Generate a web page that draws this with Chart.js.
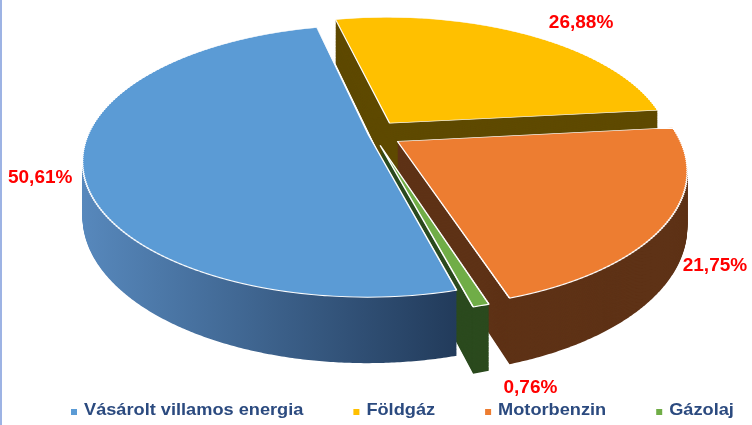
<!DOCTYPE html>
<html>
<head>
<meta charset="utf-8">
<script src="https://cdn.jsdelivr.net/npm/chart.js@4.4.1/dist/chart.umd.min.js"></script>
<style>
  html, body { margin: 0; padding: 0; background: #fff; }
  #wrap { position: relative; width: 752px; height: 425px; }
  #edge { position: absolute; left: 0; top: 0; width: 2px; height: 425px; background: #9db3e4; }
</style>
</head>
<body>
<div id="wrap">
  <canvas id="pie" width="752" height="425"></canvas>
  <div id="edge"></div>
</div>
<script>
const categories = ["Vásárolt villamos energia", "Földgáz", "Motorbenzin", "Gázolaj"];
const shares = [50.61, 26.88, 21.75, 0.76];
const topColors = ["#5b9bd5", "#ffc000", "#ed7d31", "#70ad47"];
const sideColors = [["#5788bc", "#223b5b"], "#5f4a00", "#5e3216", "#2b4a1e"];
const explode = [5, 30, 30, 26];
const labelShift = [[0, 6], [19, -9], [6, 21], [45, 13]];

// perspective view of the flat pie: centre on screen, x/y scale, perspective, wall height
const view = { cx: 373, cy: 134, sx: 0.965, sy: 0.45, persp: 0.196, depth: 53 };
const pieRadius = 290;
const legendStyle = { left: 71, baseline: 415, box: 6, textGap: 13, itemGap: 50, stretch: 1.07, color: "#2b4a7f" };

const fmtPct = v => v.toFixed(2).replace(".", ",") + "%";

let origin = { x: 0, y: 0 };

// chart coords relative to pie centre -> screen
function project(u, v) {
  const z = 1 - view.persp * v / pieRadius;
  return { x: view.cx + view.sx * u / z, y: view.cy + view.sy * v / z, z: z };
}

function wedgePoints(arc) {
  const u0 = arc.x - origin.x, v0 = arc.y - origin.y;
  const pts = [[u0, v0]];
  const n = Math.max(3, Math.ceil((arc.endAngle - arc.startAngle) / 0.008));
  for (let j = 0; j <= n; j++) {
    const a = arc.startAngle + (arc.endAngle - arc.startAngle) * j / n;
    pts.push([u0 + Math.cos(a) * arc.outerRadius, v0 + Math.sin(a) * arc.outerRadius]);
  }
  return pts.map(p => project(p[0], p[1]));
}

const tiltPlugin = {
  id: "tilt",
  afterDatasetsUpdate(chart) {
    const meta = chart.getDatasetMeta(0);
    origin = { x: meta.data[0].x, y: meta.data[0].y };
    meta.data.forEach((arc, i) => {
      const half = (arc.startAngle + arc.endAngle) / 2;
      arc.x = origin.x + Math.cos(half) * explode[i];
      arc.y = origin.y + Math.sin(half) * explode[i];
    });
  },
  beforeDatasetsDraw(chart) {
    const ctx = chart.ctx;
    const meta = chart.getDatasetMeta(0);
    const polys = meta.data.map(wedgePoints);
    const fills = polys.map((pts, i) => {
      const c = sideColors[i];
      if (!Array.isArray(c)) return c;
      const xs = pts.map(p => p.x);
      const grad = ctx.createLinearGradient(Math.min(...xs), 0, Math.max(...xs), 0);
      grad.addColorStop(0, c[0]);
      grad.addColorStop(1, c[1]);
      return grad;
    });
    // side walls: the face pushed down layer by layer
    const steps = 80;
    ctx.save();
    for (let k = steps; k >= 1; k--) {
      const f = k / steps;
      polys.forEach((pts, i) => {
        ctx.beginPath();
        pts.forEach((p, j) => {
          const y = p.y + f * view.depth / p.z;
          if (j) ctx.lineTo(p.x, y); else ctx.moveTo(p.x, y);
        });
        ctx.closePath();
        ctx.fillStyle = fills[i];
        ctx.fill();
      });
    }
    ctx.restore();

    // top faces: chart.js draws the arcs in thin horizontal bands,
    // each band with its own affine approximation of the perspective
    const band = 2;
    const top = Math.floor(view.cy - pieRadius * 1.3 * view.sy);
    const bottom = Math.ceil(view.cy + pieRadius * 1.4 * view.sy / (1 - view.persp * 1.2));
    for (let y0 = top; y0 < bottom; y0 += band) {
      const yc = y0 + band / 2;
      const w = (yc - view.cy) / view.sy;
      const v = w / (1 + view.persp * w / pieRadius);
      const z = 1 - view.persp * v / pieRadius;
      ctx.save();
      ctx.beginPath();
      ctx.rect(0, y0, chart.width, band);
      ctx.clip();
      ctx.translate(view.cx, yc);
      ctx.scale(view.sx / z, view.sy / (z * z));
      ctx.translate(-origin.x, -(origin.y + v));
      meta.controller.draw();
      ctx.restore();
    }
    return false;
  },
  afterDraw(chart) {
    const ctx = chart.ctx;
    const meta = chart.getDatasetMeta(0);

    // percentage labels
    ctx.save();
    ctx.font = "bold 19px 'Liberation Sans', Arial, sans-serif";
    ctx.fillStyle = "#ff0000";
    ctx.textBaseline = "middle";
    meta.data.forEach((arc, i) => {
      const half = (arc.startAngle + arc.endAngle) / 2;
      const c = Math.cos(half), s = Math.sin(half);
      const r = arc.outerRadius + 10;
      const p = project(arc.x - origin.x + c * r, arc.y - origin.y + s * r);
      ctx.textAlign = c > 0.3 ? "left" : (c < -0.3 ? "right" : "center");
      const drop = s > 0 ? view.depth / p.z * s * s : 0;
      ctx.fillText(fmtPct(shares[i]), p.x + labelShift[i][0], p.y + drop + labelShift[i][1]);
    });
    ctx.restore();

    // legend
    const L = legendStyle;
    ctx.save();
    ctx.font = "bold 17px 'Liberation Sans', Arial, sans-serif";
    ctx.textBaseline = "alphabetic";
    ctx.textAlign = "left";
    let x = L.left;
    categories.forEach((name, i) => {
      ctx.fillStyle = topColors[i];
      ctx.fillRect(x, L.baseline - L.box, L.box, L.box);
      x += L.textGap;
      ctx.save();
      ctx.translate(x, L.baseline);
      ctx.scale(L.stretch, 1);
      ctx.fillStyle = L.color;
      ctx.fillText(name, 0, 0);
      ctx.restore();
      x += ctx.measureText(name).width * L.stretch + L.itemGap;
    });
    ctx.restore();
  }
};

new Chart(document.getElementById("pie"), {
  type: "pie",
  data: {
    labels: categories,
    datasets: [{
      data: shares,
      backgroundColor: topColors,
      borderColor: "#ffffff",
      borderWidth: 1.5,
      radius: pieRadius,
      clip: false
    }]
  },
  options: {
    responsive: false,
    animation: false,
    rotation: 165,
    layout: { padding: { left: 16 } },
    plugins: {
      tooltip: { enabled: false },
      legend: { display: false }
    }
  },
  plugins: [tiltPlugin]
});
</script>
</body>
</html>
